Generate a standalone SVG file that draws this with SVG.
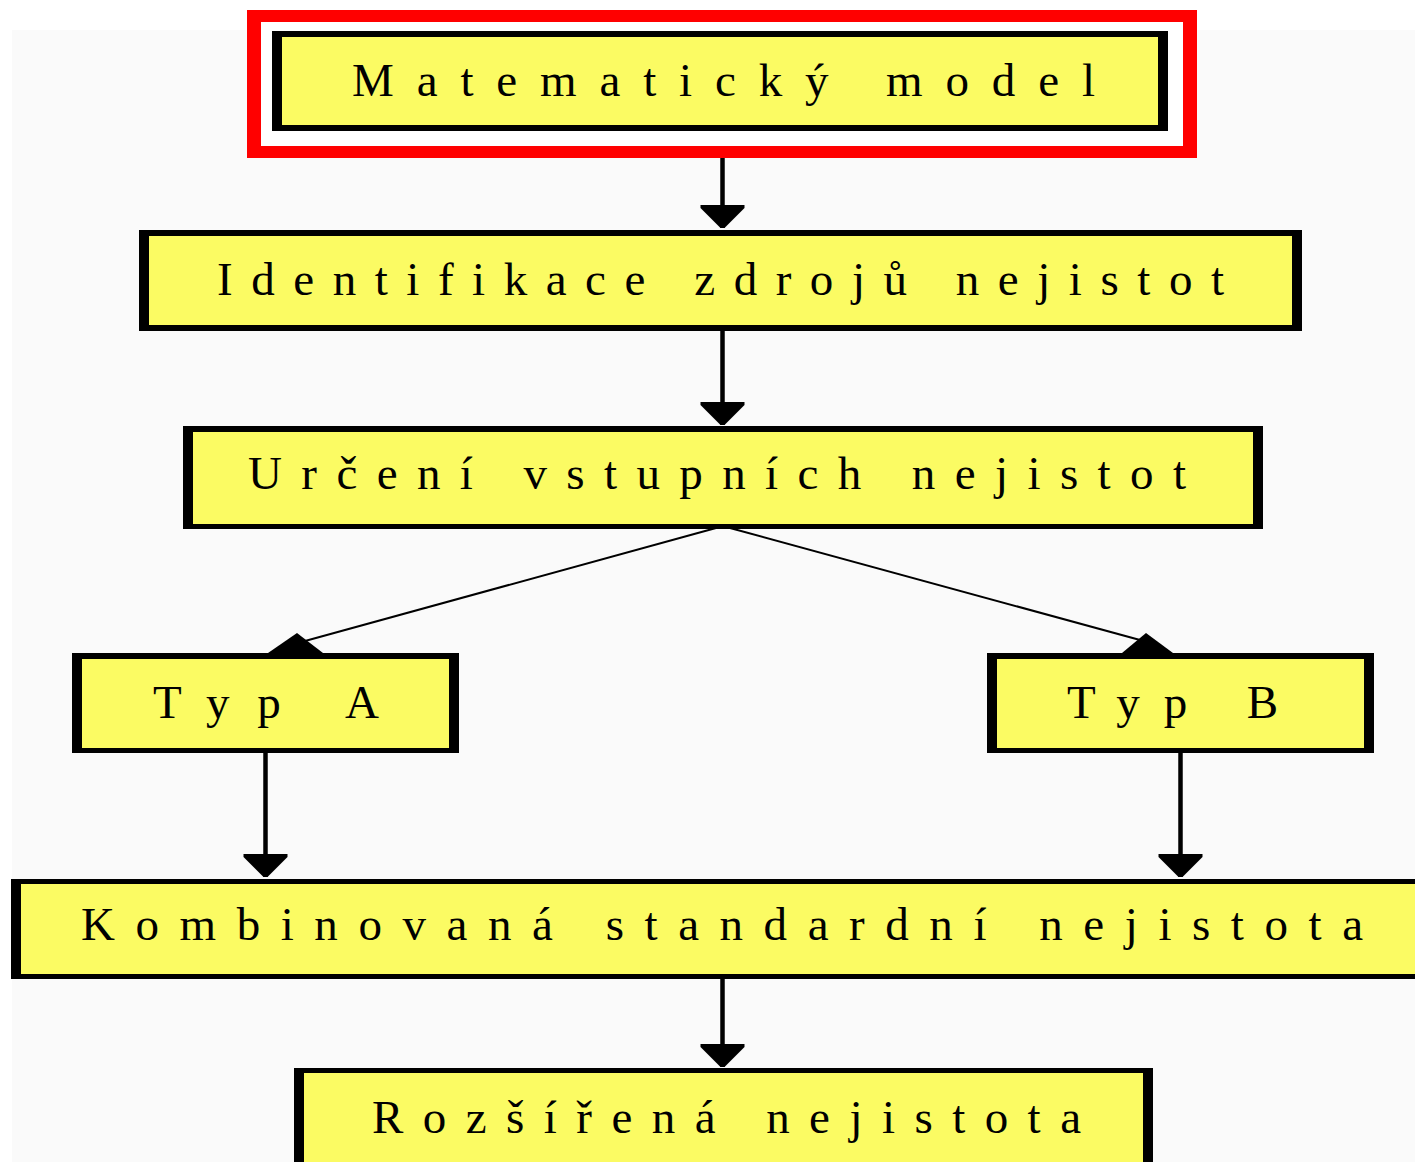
<svg xmlns="http://www.w3.org/2000/svg" width="1415" height="1162" viewBox="0 0 1415 1162">
  <style>
    .bg { fill: #fafafa; }
    .edge { fill: #000000; }
    .body { fill: #fbfb63; }
    .label { font-family: "Liberation Serif", "Times New Roman", serif; font-size: 47px; fill: #000000; }
    .wire { stroke: #000000; stroke-width: 4.5; fill: none; }
    .thin { stroke: #000000; stroke-width: 2; fill: none; }
    .head { fill: #000000; }
  </style>
  <defs>
    <marker id="arrow" markerUnits="userSpaceOnUse" markerWidth="26" markerHeight="46" viewBox="0 -23 26 46" refX="23" refY="0" orient="auto">
      <path d="M0,-22 L3,-22 L23,-2 L23,2 L3,22 L0,22 Z" fill="#000000"/>
    </marker>
  </defs>
  <rect x="0" y="0" width="1415" height="1162" fill="#ffffff"/>
  <rect class="bg" x="12" y="30" width="1403" height="1132"/>

  <g id="connectors">
    <line class="wire" x1="722.5" y1="131" x2="722.5" y2="228" marker-end="url(#arrow)"/>
    <line class="wire" x1="722.5" y1="331" x2="722.5" y2="425" marker-end="url(#arrow)"/>
    <line class="thin" x1="716" y1="528" x2="305" y2="641"/>
    <polygon class="head" points="297,633 268,653 323,653"/>
    <line class="thin" x1="730" y1="528" x2="1140" y2="640"/>
    <polygon class="head" points="1146,633 1122,653 1173,653"/>
    <line class="wire" x1="265.5" y1="753" x2="265.5" y2="877" marker-end="url(#arrow)"/>
    <line class="wire" x1="1180.5" y1="753" x2="1180.5" y2="877" marker-end="url(#arrow)"/>
    <line class="wire" x1="722.5" y1="979" x2="722.5" y2="1067" marker-end="url(#arrow)"/>
  </g>

  <g id="node-matematicky-model">
    <rect x="247" y="10" width="950" height="148" fill="#ff0000"/>
    <rect x="261" y="22" width="922" height="124" fill="#ffffff"/>
    <rect class="edge" x="272" y="31" width="896" height="100"/>
    <rect class="body" x="282" y="37" width="876" height="88"/>
    <text class="label" x="352" y="96" textLength="743" lengthAdjust="spacing">Matematický model</text>
  </g>

  <g id="node-identifikace">
    <rect class="edge" x="139" y="230" width="1163" height="101"/>
    <rect class="body" x="149" y="236" width="1143" height="89"/>
    <text class="label" x="217" y="295" textLength="1007" lengthAdjust="spacing">Identifikace zdrojů nejistot</text>
  </g>

  <g id="node-urceni">
    <rect class="edge" x="183" y="426" width="1080" height="103"/>
    <rect class="body" x="193" y="432" width="1060" height="92"/>
    <text class="label" x="248" y="489" textLength="938" lengthAdjust="spacing">Určení vstupních nejistot</text>
  </g>

  <g id="node-typ-a">
    <rect class="edge" x="72" y="653" width="387" height="100"/>
    <rect class="body" x="82" y="659" width="367" height="89"/>
    <text class="label" x="153" y="718" textLength="226" lengthAdjust="spacing">Typ A</text>
  </g>

  <g id="node-typ-b">
    <rect class="edge" x="987" y="653" width="387" height="100"/>
    <rect class="body" x="997" y="659" width="367" height="89"/>
    <text class="label" x="1067" y="718" textLength="211" lengthAdjust="spacing">Typ B</text>
  </g>

  <g id="node-kombinovana">
    <rect class="edge" x="11" y="879" width="1420" height="100"/>
    <rect class="body" x="21" y="884" width="1420" height="90"/>
    <text class="label" x="81" y="940" textLength="1282" lengthAdjust="spacing">Kombinovaná standardní nejistota</text>
  </g>

  <g id="node-rozsirena">
    <rect class="edge" x="294" y="1068" width="859" height="140"/>
    <rect class="body" x="304" y="1073" width="839" height="140"/>
    <text class="label" x="372" y="1133" textLength="709" lengthAdjust="spacing">Rozšířená nejistota</text>
  </g>
</svg>
